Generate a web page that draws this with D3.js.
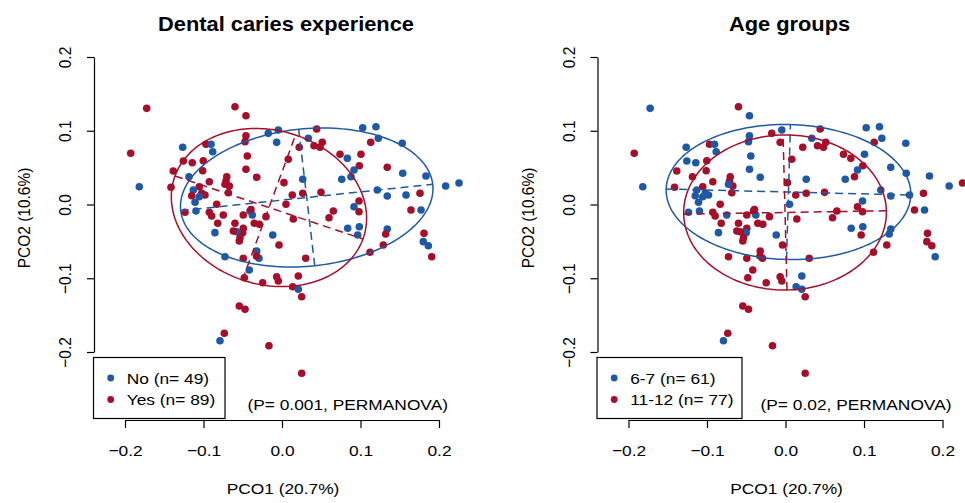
<!DOCTYPE html>
<html><head><meta charset="utf-8">
<script src="https://cdn.jsdelivr.net/npm/d3@7"></script>
<style>body{margin:0;background:#fff}svg{display:block;font-family:"Liberation Sans",Arial,Helvetica,sans-serif}</style>
</head><body><svg id="c" width="965" height="503"></svg>
<script>
// ---- data (PCO scores of each child) ----
const pco1 = [-0.0459,-0.1265,-0.0968,-0.0904,-0.0883,-0.0459,-0.0471,-0.0175,-0.0047,-0.0068,
0.0442,0.0220,0.0335,0.0408,0.0484,0.0513,0.1028,0.1197,0.1130,0.1227,
-0.1257,-0.1143,-0.1003,-0.1385,-0.1010,-0.0442,-0.0459,-0.0322,0.0080,0.0739,
0.0832,0.1006,0.0985,0.0917,0.0879,0.0761,-0.1185,-0.1414,-0.0926,-0.0704,
-0.0713,-0.0671,-0.0726,-0.1054,-0.1130,-0.1023,-0.0981,-0.1150,-0.1054,-0.0684,
-0.1108,0.0025,0.0264,0.0131,0.0264,0.0497,0.0051,0.0981,0.0917,0.0981,
0.1214,0.0654,0.0599,0.0144,-0.0832,-0.1236,-0.1096,-0.0926,-0.0896,-0.0748,
-0.0493,-0.0408,-0.0378,-0.0204,-0.0819,-0.0599,-0.0353,-0.0289,-0.0493,-0.0501,
-0.0577,-0.0620,-0.0535,-0.0544,-0.0854,-0.0118,-0.0038,-0.0322,-0.0293,-0.0325,
-0.0493,-0.0726,-0.0417,-0.0480,-0.0246,-0.0068,-0.0047,0.0208,0.0136,0.0208,
0.0302,0.0837,0.0985,0.0964,0.1121,-0.1724,-0.0599,-0.1927,-0.1818,0.1532,
0.1341,0.1538,0.1834,0.1341,0.1580,0.1758,0.2085,0.2255,0.1643,0.1771,
0.1341,0.1321,0.1809,0.1800,0.1864,0.1907,0.1290,-0.0544,-0.0471,-0.0735,
-0.0790,-0.0166,0.0251,0.0251,-0.0395];
const pco2 = [0.1204,0.0776,0.0816,0.0816,0.0716,0.0933,0.0852,0.0965,0.1010,0.0843,
0.1024,0.0776,0.0898,0.0797,0.0776,0.0843,0.1041,0.1055,0.0843,0.0898,
0.0590,0.0567,0.0594,0.0454,0.0458,0.0658,0.0477,0.0369,0.0613,0.0681,
0.0626,0.0681,0.0526,0.0468,0.0377,0.0342,0.0377,0.0233,0.0309,0.0377,
0.0319,0.0251,0.0274,0.0241,0.0197,0.0152,0.0129,0.0119,0.0106,0.0160,
0.0030,0.0296,0.0342,0.0129,0.0152,0.0165,0.0003,0.0047,-0.0030,-0.0098,
0.0197,-0.0088,-0.0179,-0.0197,0.0003,-0.0106,-0.0088,-0.0106,-0.0156,-0.0142,
-0.0142,-0.0088,-0.0142,-0.0165,-0.0255,-0.0255,-0.0255,-0.0268,-0.0323,-0.0382,
-0.0369,-0.0359,-0.0450,-0.0495,-0.0382,-0.0414,-0.0549,-0.0631,-0.0729,-0.0698,
-0.0729,-0.0708,-0.0888,-0.0993,-0.1060,-0.0979,-0.1037,-0.0969,-0.1115,-0.1150,
-0.0729,-0.0323,-0.0301,-0.0414,-0.0648,0.1304,0.1326,0.0694,0.0241,0.0830,
0.0504,0.0423,0.0386,0.0115,0.0129,0.0152,0.0251,0.0292,-0.0075,-0.0075,
-0.0332,-0.0400,-0.0391,-0.0504,-0.0559,-0.0708,-0.0549,-0.1376,-0.1421,-0.1746,
-0.1847,-0.1915,-0.2289,-0.1250,-0.0068];
// 0 = No caries, 1 = Yes
const caries = [1,0,1,0,0,1,1,0,0,0, 1,1,0,1,1,1,0,0,1,0, 1,1,1,1,1,1,1,1,1,1,
0,1,1,0,0,0,0,1,1,1, 1,1,1,1,0,1,1,1,0,1, 0,1,0,1,1,1,1,1,0,1, 0,1,1,1,1,1,0,1,1,1,
1,0,0,1,1,1,1,1,1,1, 0,1,1,1,0,0,1,0,0,1, 1,0,0,1,1,1,1,1,1,0, 1,0,0,0,1,1,1,1,0,0,
1,0,0,0,0,1,0,0,1,0, 0,1,1,0,0,1,1,1,1,1, 0,1,1,1,1];
// 0 = 6-7 years, 1 = 11-12 years
const ageGroup = [0,0,1,0,0,0,0,1,0,1, 1,1,0,1,1,1,0,0,1,0, 0,0,1,1,1,0,0,0,1,1,
1,0,1,0,1,0,1,1,1,1, 1,1,0,1,0,0,0,0,0,1, 0,1,0,1,1,1,0,0,1,1, 0,1,1,1,1,0,0,1,1,0,
1,1,0,1,1,1,1,1,1,0, 1,1,1,1,0,0,1,1,1,1, 1,1,1,1,1,1,1,0,0,0, 1,0,0,1,1,0,1,1,0,0,
0,0,0,0,0,1,0,1,1,0, 0,0,1,1,1,0,1,1,1,1, 0,1,1,1,1];

const xTicks = [-0.2,-0.1,0.0,0.1,0.2];
const yTicks = [-0.2,-0.1,0.0,0.1,0.2];
const titles = ["Dental caries experience","Age groups"];
const legendLabels = [["No (n= 49)","Yes (n= 89)"],["6-7 (n= 61)","11-12 (n= 77)"]];
const pTexts = ["(P= 0.001, PERMANOVA)","(P= 0.02, PERMANOVA)"];
const xTitle = "PCO1 (20.7%)";
const yTitle = "PCO2 (10.6%)";
// group ellipses: [panel][group] centre and the two semi-axis vectors (data units)
const ellCx = [[0.0315,-0.0166],[0.0038,-0.0006]];
const ellCy = [[0.0095,-0.0041],[0.0169,-0.0108]];
const ellAx = [[0.1605,0.1197],[0.1558,0.1291]];
const ellAy = [[0.0179,-0.0427],[-0.0041,0.0023]];
const ellBx = [[-0.0102,0.0338],[0.0025,-0.0025]];
const ellBy = [[0.0925,0.0983],[0.0915,0.1051]];

const colors = ["#1f59a5","#a50f2a"];
const svg = d3.select("#c");
const SX = 1.12; // horizontal stretch of text
const groups = [caries, ageGroup];

[0,1].forEach(p => {
  const off = p * 503.5;
  const x = d3.scaleLinear().domain([-0.2,0.2]).range([125+off,439+off]);
  const y = d3.scaleLinear().domain([-0.2,0.2]).range([352,57]);
  const g = svg.append("g");
  const grp = groups[p];

  // points
  g.append("g").selectAll("circle").data(pco1.map((v,i)=>i)).join("circle")
    .attr("cx", i => x(pco1[i])).attr("cy", i => y(pco2[i])).attr("r", 3.8)
    .attr("fill", i => colors[grp[i]]);

  // ellipses and axes
  [0,1].forEach(k => {
    const cx = ellCx[p][k], cy = ellCy[p][k];
    const ax = ellAx[p][k], ay = ellAy[p][k], bx = ellBx[p][k], by = ellBy[p][k];
    const ts = d3.range(0, 361, 2).map(d => d*Math.PI/180);
    const line = d3.line().x(t => x(cx + ax*Math.cos(t) + bx*Math.sin(t)))
                          .y(t => y(cy + ay*Math.cos(t) + by*Math.sin(t)));
    g.append("path").attr("d", line(ts)).attr("fill","none")
      .attr("stroke", colors[k]).attr("stroke-width",1.5);
    [[ax,ay],[bx,by]].forEach(([vx,vy]) => {
      g.append("line").attr("x1", x(cx-vx)).attr("y1", y(cy-vy))
        .attr("x2", x(cx+vx)).attr("y2", y(cy+vy))
        .attr("stroke", colors[k]).attr("stroke-width",1.5)
        .attr("stroke-dasharray","8,5");
    });
  });

  // axes
  const xa = g.append("g").attr("transform","translate(0,420)")
    .call(d3.axisBottom(x).tickValues(xTicks).tickSize(8).tickSizeOuter(0).tickPadding(17)
      .tickFormat(d3.format(".1f")));
  const ya = g.append("g").attr("transform",`translate(${94+off},0)`)
    .call(d3.axisLeft(y).tickValues(yTicks).tickSize(7).tickSizeOuter(0)
      .tickFormat(d3.format(".1f")));
  [xa,ya].forEach(a => {
    a.select(".domain").attr("stroke","#000").attr("stroke-width",1.2);
    a.selectAll(".tick line").attr("stroke","#000").attr("stroke-width",1.2);
    a.selectAll("text").attr("font-size",15.5).attr("fill","#000")
      .attr("font-family",'"Liberation Sans",Arial,sans-serif');
  });
  xa.selectAll(".tick text").each(function(){
    const t = d3.select(this);
    t.attr("transform", `translate(0,${+t.attr("y")}) scale(${SX},1)`).attr("y",0);
  });
  ya.selectAll(".tick text").attr("x",null).attr("dy",null)
    .attr("text-anchor","middle").attr("transform",`translate(-23,0) scale(${SX},1) rotate(-90)`);

  // titles
  g.append("text").attr("transform",`translate(${286+off},31) scale(${SX},1)`)
    .attr("text-anchor","middle").attr("font-weight","bold").attr("font-size",19.5)
    .text(titles[p]);
  g.append("text").attr("transform",`translate(${283+off},494) scale(${SX},1)`)
    .attr("text-anchor","middle").attr("font-size",15.5).text(xTitle);
  g.append("text").attr("transform",`translate(${30+off},218) scale(${SX},1) rotate(-90)`)
    .attr("text-anchor","middle").attr("font-size",15.5).text(yTitle);

  // legend
  const lw = p === 0 ? 131.5 : 145;
  g.append("rect").attr("x",93.5+off).attr("y",357.5).attr("width",lw).attr("height",61)
    .attr("fill","#fff").attr("stroke","#000").attr("stroke-width",1.2);
  legendLabels[p].forEach((lab,k) => {
    const ly = 378 + k*21.5;
    g.append("circle").attr("cx",110.7+off).attr("cy",ly).attr("r",3.4).attr("fill",colors[k]);
    g.append("text").attr("transform",`translate(${126.7+off},${ly+5.5}) scale(${SX},1)`)
      .attr("font-size",15.5).text(lab);
  });

  // PERMANOVA
  g.append("text").attr("transform",`translate(${448+off},410) scale(${SX},1)`)
    .attr("text-anchor","end").attr("font-size",15.5).text(pTexts[p]);
});
</script></body></html>
